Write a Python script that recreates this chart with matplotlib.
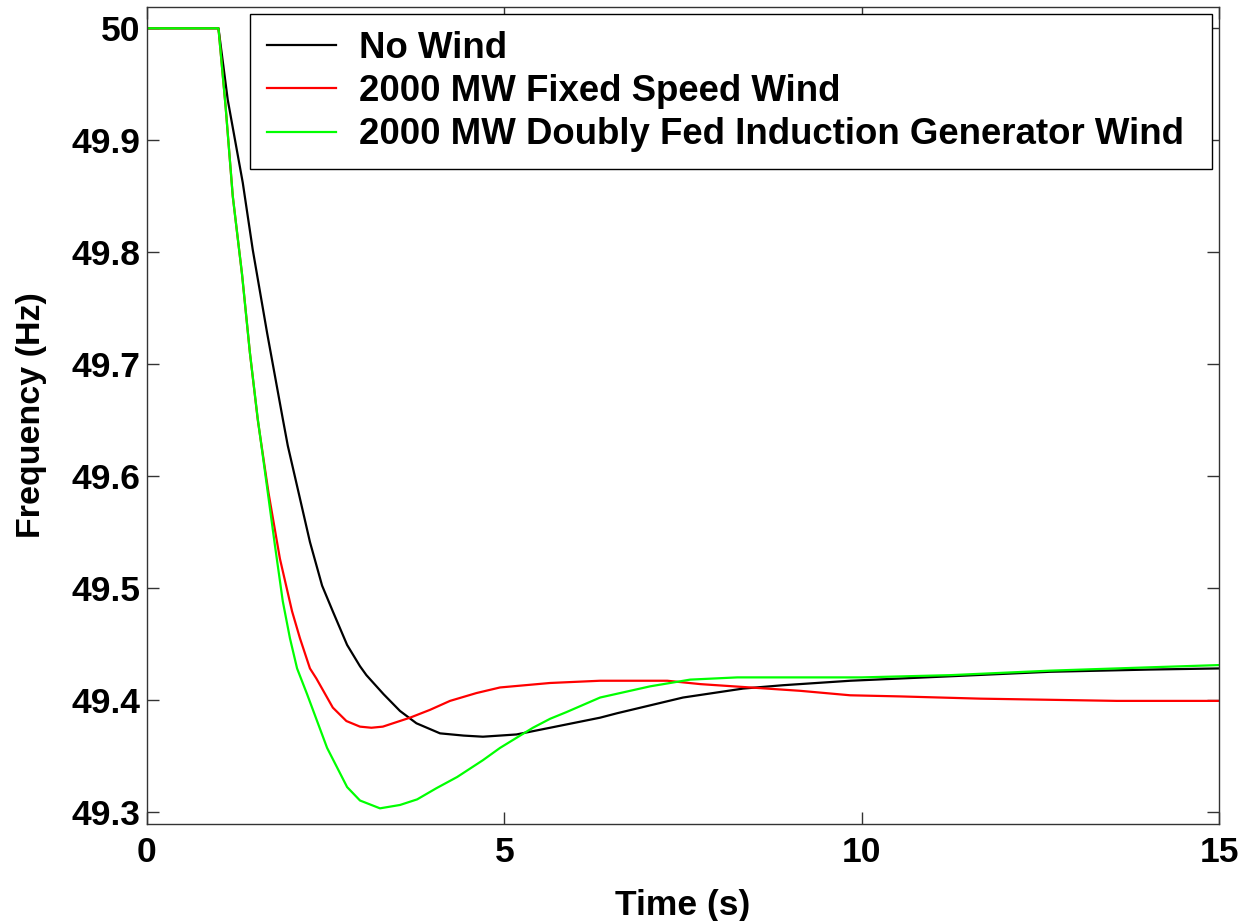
import numpy as np
import matplotlib
matplotlib.use("Agg")
import matplotlib.pyplot as plt

# Valores
t_sin_viento = [0, 1.0, 1.13, 1.34, 1.48, 1.68, 1.90, 1.97, 2.10, 2.28, 2.45, 2.60, 2.80,
                2.98, 3.07, 3.31, 3.54, 3.77, 4.10, 4.43, 4.70, 5.17, 5.64, 6.34, 6.58,
                7.50, 8.34, 8.90, 9.84, 11.24, 12.63, 14.03, 15]
f_sin_viento = [50, 50, 49.936, 49.862, 49.802, 49.728, 49.651, 49.627, 49.591, 49.541,
                49.502, 49.479, 49.449, 49.430, 49.422, 49.405, 49.390, 49.379, 49.370,
                49.368, 49.367, 49.369, 49.375, 49.384, 49.388, 49.402, 49.410, 49.413,
                49.417, 49.421, 49.425, 49.427, 49.428]

t_fija = [0, 1.0, 1.1, 1.2, 1.33, 1.44, 1.55, 1.70, 1.86, 2.03, 2.14, 2.28, 2.37, 2.60,
          2.79, 2.98, 3.14, 3.30, 3.68, 3.96, 4.24, 4.61, 4.94, 5.64, 6.34, 7.28, 7.74,
          8.44, 9.14, 9.84, 10.54, 11.66, 13.57, 15]
f_fija = [50, 50, 49.93, 49.85, 49.78, 49.71, 49.65, 49.585, 49.526, 49.479, 49.455,
          49.428, 49.419, 49.393, 49.381, 49.376, 49.375, 49.376, 49.384, 49.391, 49.399,
          49.406, 49.411, 49.415, 49.417, 49.417, 49.414, 49.411, 49.408, 49.404, 49.403,
          49.401, 49.399, 49.399]

t_dfig = [0, 1.0, 1.1, 1.2, 1.33, 1.44, 1.55, 1.68, 1.79, 1.90, 2.0, 2.10, 2.24, 2.52,
          2.80, 2.98, 3.26, 3.54, 3.78, 4.05, 4.34, 4.70, 4.94, 5.40, 5.64, 5.87, 6.34,
          7.04, 7.60, 8.26, 9.0, 10.0, 11.24, 12.63, 14.03, 15]
f_dfig = [50, 50, 49.93, 49.85, 49.78, 49.71, 49.651, 49.59, 49.538, 49.488, 49.455,
          49.428, 49.405, 49.357, 49.322, 49.310, 49.303, 49.306, 49.311, 49.321, 49.331,
          49.346, 49.357, 49.375, 49.383, 49.389, 49.402, 49.412, 49.418, 49.420, 49.420,
          49.420, 49.422, 49.426, 49.429, 49.431]

etiquetas = ["No Wind", "2000 MW Fixed Speed Wind",
             "2000 MW Doubly Fed Induction Generator Wind"]
colores = ["black", "#ff0000", "#00ff00"]

plt.rcParams["font.family"] = ["Liberation Sans", "DejaVu Sans"]
plt.rcParams["font.weight"] = "bold"

fig = plt.figure(figsize=(12.44, 9.21), dpi=100)
ax = fig.add_axes([147 / 1244, 1 - 824 / 921, 1072 / 1244, 817 / 921])

series = [(t_sin_viento, f_sin_viento), (t_fija, f_fija), (t_dfig, f_dfig)]
for (t, f), lab, col in zip(series, etiquetas, colores):
    ax.plot(t, f, color=col, lw=1.6, label=lab)

ax.set_xlim(0, 15)
ax.set_ylim(49.289, 50.019)
ax.set_xticks([0, 5, 10, 15])
ax.set_yticks([49.3, 49.4, 49.5, 49.6, 49.7, 49.8, 49.9, 50])
ax.set_yticklabels(["49.3", "49.4", "49.5", "49.6", "49.7", "49.8", "49.9", "50"])
ax.tick_params(direction="in", length=8.5, width=1, colors="#333333",
               labelcolor="black", labelsize=25.5, top=True, right=True)
ax.tick_params(axis="x", pad=9)
ax.tick_params(axis="y", pad=5)
for s in ax.spines.values():
    s.set_color("#333333")
    s.set_linewidth(1)

ax.set_xlabel("Time (s)", fontsize=25.5, fontweight="bold", labelpad=14)
ax.set_ylabel("Frequency (Hz)", fontsize=24.5, fontweight="bold", labelpad=17)

# caja de leyenda de ancho fijo, como en la figura
x0 = (250 - 147) / 1072
x1 = (1212 - 147) / 1072
y1 = (824 - 14) / 817
leg = ax.legend(loc="upper left", bbox_to_anchor=(x0, 0.5, x1 - x0, y1 - 0.5),
                mode="expand", borderaxespad=0, fontsize=26.4, fancybox=False,
                framealpha=1, edgecolor="black", handlelength=1.9,
                handletextpad=0.62, labelspacing=0.23, borderpad=0.45)
leg.get_frame().set_linewidth(1)

plt.savefig("out.png", dpi=100)
plt.close()
